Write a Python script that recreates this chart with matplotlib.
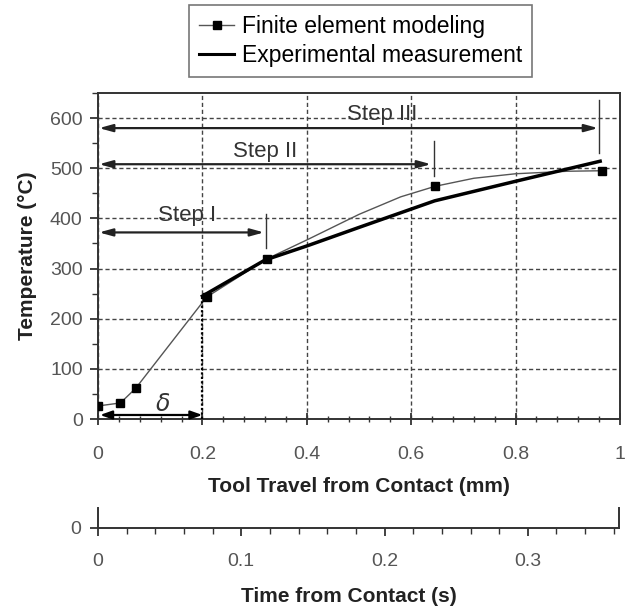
import numpy as np
import matplotlib.pyplot as plt
from matplotlib.ticker import MultipleLocator, FixedLocator, FixedFormatter
from matplotlib.lines import Line2D

plt.rcParams['font.family'] = ['Liberation Sans', 'DejaVu Sans']

# finite element points (markers)
fe_x = [0.0, 0.043, 0.072, 0.208, 0.323, 0.646, 0.965]
fe_y = [26, 32, 61, 243, 319, 464, 495]
# finite element curve as traced (thin line)
fe_curve_x = [0.0, 0.043, 0.072, 0.208, 0.323, 0.40, 0.50, 0.58, 0.646, 0.72, 0.80, 0.90, 0.965]
fe_curve_y = [26, 32, 61, 243, 319, 357, 408, 443, 464, 480, 489, 494, 495]
# experimental measurement
exp_x = [0.20, 0.32, 0.40, 0.50, 0.645, 0.80, 0.962]
exp_y = [245, 317, 345, 382, 435, 474, 514]

# step annotations
step_labels = ['Step I', 'Step II', 'Step III']
step_end = [0.318, 0.638, 0.958]
step_level = [372, 508, 580]
step_mark_x = [0.322, 0.643, 0.960]
step_mark_lo = [341, 484, 530]
step_mark_hi = [409, 554, 637]
step_text_x = [0.17, 0.32, 0.545]
step_text_y = [405, 534, 607]

delta_end = 0.2
t_max = 1 / 2.75  # s, time axis length matching 1 mm travel

x_ticks = [0, 0.2, 0.4, 0.6, 0.8, 1.0]
x_ticklabels = ['0', '0.2', '0.4', '0.6', '0.8', '1']
y_ticks = [0, 100, 200, 300, 400, 500, 600]
t_ticks = [0, 0.1, 0.2, 0.3]
t_ticklabels = ['0', '0.1', '0.2', '0.3']

W, H = 626, 609
fig = plt.figure(figsize=(W / 100, H / 100), dpi=100)
ax = fig.add_axes([98 / W, 1 - 419 / H, 522 / W, 326 / H])

spine_c = '#333333'
tick_c = '#555555'

ax.plot(fe_curve_x, fe_curve_y, '-', color='#555555', lw=1.0, zorder=3)
ax.plot(fe_x, fe_y, 's', color='black', ms=6, zorder=4)
ax.plot(exp_x, exp_y, '-', color='black', lw=2.5, zorder=3)

# delta marker
ax.plot([delta_end, delta_end], [0, fe_y[3]], color='black', lw=1.6,
        linestyle=(0, (1, 1)), zorder=3)
ax.annotate('', xy=(delta_end, 8), xytext=(0.004, 8),
            arrowprops=dict(arrowstyle='<|-|>,head_length=0.7,head_width=0.25',
                            color='black', lw=1.6, shrinkA=0, shrinkB=0), zorder=5)
ax.text(0.123, 28, r'$\delta$', fontsize=17, ha='center', va='center', color='#333333')

for lab, xe, lv, mx, lo, hi, tx, ty in zip(step_labels, step_end, step_level, step_mark_x,
                                           step_mark_lo, step_mark_hi, step_text_x, step_text_y):
    ax.annotate('', xy=(xe, lv), xytext=(0.002, lv),
                arrowprops=dict(arrowstyle='<|-|>,head_length=0.8,head_width=0.22',
                                color='#222222', lw=1.6, shrinkA=0, shrinkB=0), zorder=5)
    ax.plot([mx, mx], [lo, hi], color='#333333', lw=1.0, zorder=5)
    ax.text(tx, ty, lab, fontsize=16, ha='center', va='center', color='#333333', zorder=6)

ax.set_xlim(0, 1)
ax.set_ylim(0, 650)
ax.xaxis.set_major_locator(FixedLocator(x_ticks))
ax.xaxis.set_major_formatter(FixedFormatter(x_ticklabels))
ax.xaxis.set_minor_locator(MultipleLocator(0.04))
ax.yaxis.set_major_locator(FixedLocator(y_ticks))
ax.yaxis.set_minor_locator(MultipleLocator(50))
ax.grid(True, which='major', color='#444444', lw=1.0, linestyle=(0, (3, 2)))
ax.tick_params(axis='x', which='major', direction='inout', length=9, width=1.3,
               color=spine_c, labelsize=14, labelcolor=tick_c, pad=15)
ax.tick_params(axis='x', which='minor', direction='inout', length=5, width=1.0, color=spine_c)
ax.tick_params(axis='y', which='major', direction='out', length=6, width=1.3,
               color=spine_c, labelsize=14, labelcolor=tick_c, pad=5)
ax.tick_params(axis='y', which='minor', direction='out', length=4, width=1.0, color=spine_c)
for s in ax.spines.values():
    s.set_color(spine_c)
    s.set_linewidth(1.4)
ax.set_xlabel('Tool Travel from Contact (mm)', fontsize=15, fontweight='bold',
              color='#222222', labelpad=10)
ax.set_ylabel('Temperature (\u00b0C)', fontsize=15, fontweight='bold',
              color='#222222', labelpad=9)

# time axis
ax2 = fig.add_axes([98 / W, 1 - 528 / H, 521 / W, 20 / H])
ax2.set_xlim(0, t_max)
ax2.set_ylim(0, 1)
ax2.patch.set_alpha(0)
ax2.xaxis.set_major_locator(FixedLocator(t_ticks))
ax2.xaxis.set_major_formatter(FixedFormatter(t_ticklabels))
ax2.xaxis.set_minor_locator(MultipleLocator(0.02))
ax2.yaxis.set_major_locator(FixedLocator([0]))
ax2.yaxis.set_major_formatter(FixedFormatter(['0']))
ax2.spines['top'].set_visible(False)
for s in ['left', 'right', 'bottom']:
    ax2.spines[s].set_color(spine_c)
    ax2.spines[s].set_linewidth(1.4)
ax2.tick_params(axis='x', which='major', direction='out', length=6, width=1.3,
                color=spine_c, labelsize=14, labelcolor=tick_c, pad=12)
ax2.tick_params(axis='x', which='minor', direction='out', length=4, width=1.0, color=spine_c)
ax2.tick_params(axis='y', which='major', direction='out', length=6, width=1.3,
                color=spine_c, labelsize=14, labelcolor=tick_c, pad=6)
fig.text(349 / W, 1 - 597 / H, 'Time from Contact (s)', fontsize=15, fontweight='bold',
         color='#222222', ha='center', va='center')

handles = [Line2D([], [], color='#555555', lw=1.0, marker='s', ms=6,
                  markerfacecolor='black', markeredgecolor='black'),
           Line2D([], [], color='black', lw=2.2)]
leg = fig.legend(handles, ['Finite element modeling', 'Experimental measurement'],
                 loc='upper left', bbox_to_anchor=(189 / W, 1 - 5 / H), borderaxespad=0,
                 fontsize=16.5, frameon=True, fancybox=False, edgecolor='#555555',
                 handlelength=1.5, handletextpad=0.35, borderpad=0.45, labelspacing=0.25)
leg.get_frame().set_linewidth(1.2)

fig.savefig('out.png', dpi=100)
